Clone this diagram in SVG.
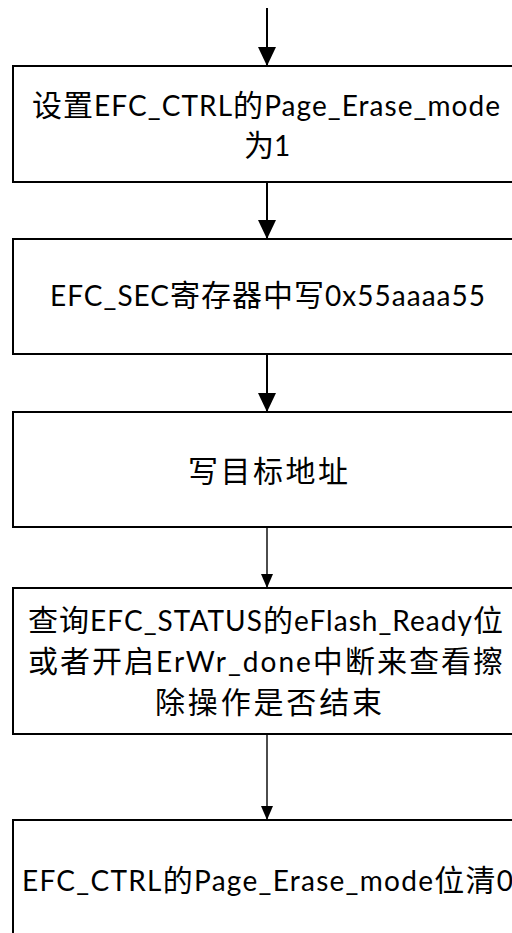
<svg xmlns="http://www.w3.org/2000/svg" width="512" height="933" viewBox="0 0 512 933">
<style>
.box{fill:#fff;stroke:#000;stroke-width:2}
.t{font-family:Lato,"Noto Sans CJK SC",sans-serif;font-size:28px;fill:#000;text-anchor:middle}
.k{font-family:"Noto Sans CJK SC",sans-serif;font-size:30px}
.c1{stroke:#000;stroke-width:2;fill:none}
.c2{stroke:#000;stroke-width:1.4;fill:none}
</style>
<defs>
<marker id="ab" markerUnits="userSpaceOnUse" markerWidth="19" markerHeight="18" refX="19" refY="9" orient="auto" viewBox="0 0 19 18"><path d="M0,0 L19,9 L0,18 z" fill="#000"/></marker>
<marker id="as" markerUnits="userSpaceOnUse" markerWidth="14" markerHeight="12" refX="14" refY="6" orient="auto" viewBox="0 0 14 12"><path d="M0,0 L14,6 L0,12 z" fill="#000"/></marker>
</defs>
<g id="connectors">
<line class="c1" x1="267" y1="8" x2="267" y2="66" marker-end="url(#ab)"/>
<line class="c1" x1="267" y1="182" x2="267" y2="239" marker-end="url(#ab)"/>
<line class="c1" x1="267" y1="354" x2="267" y2="412" marker-end="url(#ab)"/>
<line class="c2" x1="267" y1="527" x2="267" y2="588" marker-end="url(#as)"/>
<line class="c2" x1="267" y1="734" x2="267" y2="820" marker-end="url(#as)"/>
</g>
<g id="n1">
<rect class="box" x="13" y="66" width="508" height="116"/>
<text class="t" x="266" y="116" textLength="468" lengthAdjust="spacing"><tspan class="k">设置</tspan>EFC_CTRL<tspan class="k">的</tspan>Page_Erase_mode</text>
<text class="t" x="267" y="156"><tspan class="k">为</tspan>1</text>
</g>
<g id="n2">
<rect class="box" x="13" y="239" width="508" height="115"/>
<text class="t" x="267.5" y="306" textLength="435" lengthAdjust="spacing">EFC_SEC<tspan class="k">寄存器中写</tspan>0x55aaaa55</text>
</g>
<g id="n3">
<rect class="box" x="13" y="412" width="508" height="115"/>
<text class="t k" x="268" y="482" textLength="160" lengthAdjust="spacing">写目标地址</text>
</g>
<g id="n4">
<rect class="box" x="13" y="588" width="508" height="146"/>
<text class="t" x="265.5" y="631" textLength="475" lengthAdjust="spacing"><tspan class="k">查询</tspan>EFC_STATUS<tspan class="k">的</tspan>eFlash_Ready<tspan class="k">位</tspan></text>
<text class="t" x="265.5" y="672" textLength="475" lengthAdjust="spacing"><tspan class="k">或者开启</tspan>ErWr_done<tspan class="k">中断来查看擦</tspan></text>
<text class="t k" x="268.5" y="713" textLength="227" lengthAdjust="spacing">除操作是否结束</text>
</g>
<g id="n5">
<rect class="box" x="13" y="820" width="508" height="140"/>
<text class="t" x="267.5" y="891" textLength="491" lengthAdjust="spacing">EFC_CTRL<tspan class="k">的</tspan>Page_Erase_mode<tspan class="k">位清</tspan>0</text>
</g>
</svg>
